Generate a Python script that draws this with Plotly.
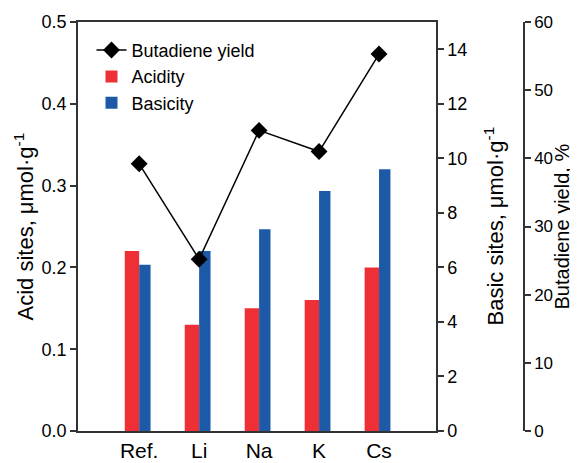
import plotly.graph_objects as go

categories = ["Ref.", "Li", "Na", "K", "Cs"]
acidity = [0.22, 0.13, 0.15, 0.16, 0.20]          # µmol/g (left axis)
basicity = [6.1, 6.6, 7.4, 8.8, 9.6]             # µmol/g (right axis)
butadiene_yield = [39.2, 25.2, 44.1, 41.0, 55.3]  # % (far right axis)

RED = "#EE3036"
BLUE = "#1C5AA8"
LINE = "#333333"
FONT = "Liberation Sans, Arial, sans-serif"

fig = go.Figure()

fig.add_trace(go.Scatter(
    x=categories, y=butadiene_yield, name="Butadiene yield",
    mode="lines+markers", yaxis="y3", legendgroup="g1",
    line=dict(color="black", width=1.5),
    marker=dict(symbol="diamond", size=13, color="black"),
))
fig.add_trace(go.Bar(
    x=categories, y=acidity, name="Acidity", yaxis="y", legendgroup="g2",
    marker=dict(color=RED, line=dict(width=0)),
    width=0.24, offset=-0.24,
))
fig.add_trace(go.Bar(
    x=categories, y=basicity, name="Basicity", yaxis="y2", legendgroup="g3",
    marker=dict(color=BLUE, line=dict(width=0)),
    width=0.19, offset=0.0,
))

axis_common = dict(showgrid=False, zeroline=False, showline=True,
                   linecolor=LINE, linewidth=1.5, ticks="outside",
                   ticklen=6, tickwidth=1.5, tickcolor=LINE, automargin=False,
                   tickfont=dict(size=18, color="black", family=FONT))

# page body has an 8px margin, so the figure is 8px smaller than the window
OFF = 8
W, H = 578 - OFF, 463 - OFF
L, R, T, B = 78 - OFF, 50, 22 - OFF, 32
pw = W - L - R


def px(page_x):
    return (page_x - OFF - L) / pw


fig.update_layout(
    width=W, height=H,
    margin=dict(l=L, r=R, t=T, b=B, autoexpand=False),
    paper_bgcolor="white", plot_bgcolor="white",
    font=dict(family=FONT, color="black"),
    barmode="overlay",
    showlegend=True,
    legend=dict(x=0.03, y=0.976, xanchor="left", yanchor="top",
                bgcolor="rgba(0,0,0,0)", font=dict(size=18, family=FONT),
                tracegroupgap=0, traceorder="grouped"),
    xaxis=dict(domain=[0, 358 / pw], range=[-1.02, 4.95], automargin=False,
               showline=True, linecolor=LINE, linewidth=1.5, mirror=True,
               showgrid=False, zeroline=False, ticks="",
               tickfont=dict(size=21, color="black", family=FONT)),
    yaxis=dict(range=[0, 0.5], dtick=0.1, tickformat=".1f", **axis_common),
    yaxis2=dict(range=[0, 15], dtick=2, overlaying="y", side="right",
                anchor="x", **axis_common),
    yaxis3=dict(range=[0, 60], dtick=10, overlaying="y", side="right",
                anchor="free", position=px(524),
                **{**axis_common, "tickfont": dict(size=17, color="black", family=FONT)}),
)

for text, page_x, size in [("Acid sites, μmol·g<sup>-1</sup>", 23, 22),
                           ("Basic sites, μmol·g<sup>-1</sup>", 493, 22),
                           ("Butadiene yield, %", 561, 20)]:
    fig.add_annotation(text=text, textangle=-90,
                       xref="paper", yref="paper", x=px(page_x), y=0.5,
                       xanchor="center", yanchor="middle",
                       showarrow=False,
                       font=dict(size=size, family=FONT, color="black"))

fig.write_html("out.html")
